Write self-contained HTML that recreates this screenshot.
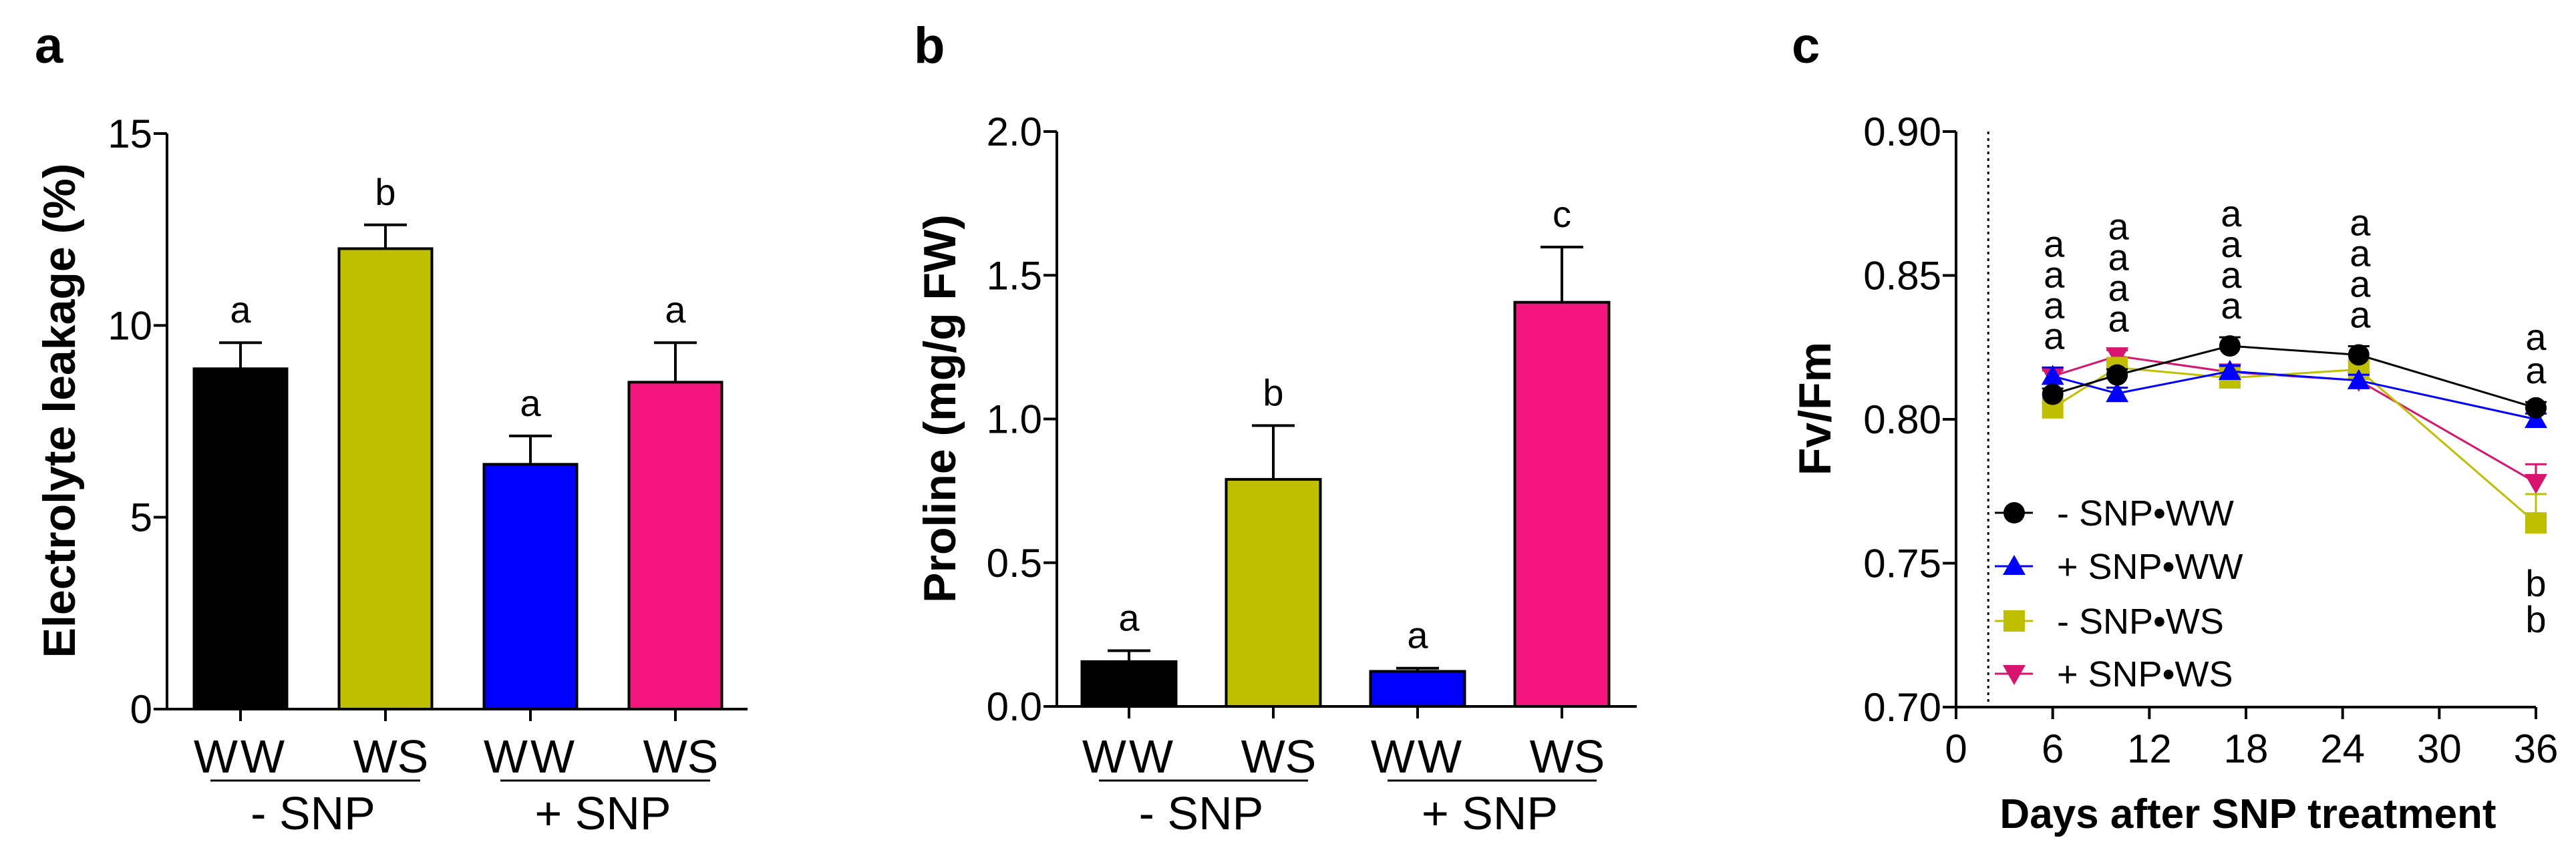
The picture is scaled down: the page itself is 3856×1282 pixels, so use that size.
<!DOCTYPE html>
<html><head><meta charset="utf-8">
<style>
html,body{margin:0;padding:0;background:#fff;}
svg{display:block;font-family:"Liberation Sans",Arial,sans-serif;}
</style></head>
<body>
<svg id="fig" width="3856" height="1282" viewBox="0 0 3856 1282" xmlns="http://www.w3.org/2000/svg">
<rect width="3856" height="1282" fill="#fff"/>
<text x="52" y="94" font-size="76" font-weight="bold">a</text>
<text x="1368" y="94" font-size="76" font-weight="bold">b</text>
<text x="2682" y="94" font-size="76" font-weight="bold">c</text>
<g id="pa"></g>
<g id="pb"></g>
<g id="pc"></g>
</svg>
<script>
const NS="http://www.w3.org/2000/svg";
// Panel a data
const aCats=["WW","WS","WW","WS"];
const aVals=[8.87,12.0,6.38,8.52];
const aErr=[0.68,0.62,0.74,1.03];
const aSig=["a","b","a","a"];
const aTicks=[0,5,10,15];
// Panel b data
const bCats=["WW","WS","WW","WS"];
const bVals=[0.156,0.79,0.122,1.406];
const bErr=[0.038,0.187,0.011,0.192];
const bSig=["a","b","a","c"];
const bTicks=["0.0","0.5","1.0","1.5","2.0"];
// Panel c data
const cDays=[6,10,17,25,36];
const cSeriesNames=["- SNP\u2022WW","+ SNP\u2022WW","- SNP\u2022WS","+ SNP\u2022WS"];
const cBlack=[0.8087,0.8154,0.8255,0.8224,0.804];
const cBlue=[0.815,0.809,0.8167,0.8135,0.800];
const cYellow=[0.804,0.818,0.8144,0.8173,0.764];
const cPink=[0.815,0.822,0.8164,0.8135,0.778];
const cBlackErr=[0.002,0.002,0.003,0.003,0.002];
const cBlueErr=[0.003,0.002,0.002,0.002,0.002];
const cYellowErr=[0.002,0.002,0.003,0.003,0.010];
const cPinkErr=[0.002,0.002,0.002,0.002,0.0064];
const cSigLetters=[["a","a","a","a"],["a","a","a","a"],["a","a","a","a"],["a","a","a","a"],["a","a","b","b"]];
const cYTicks=["0.70","0.75","0.80","0.85","0.90"];
const cXTicks=[0,6,12,18,24,30,36];

function el(parent,tag,attrs,text){const e=document.createElementNS(NS,tag);for(const k in attrs)e.setAttribute(k,attrs[k]);if(text!==undefined)e.textContent=text;parent.appendChild(e);return e;}
const barColors=["#000000","#bfbf00","#0000ff","#f5157f"];

function barPanel(g,cfg){
  const y=v=>cfg.y0-(v-cfg.min)/(cfg.max-cfg.min)*(cfg.y0-cfg.y1);
  const x=i=>cfg.xc0+i*cfg.step;
  cfg.vals.forEach((v,i)=>{
    const r=el(g,"rect",{x:x(i)-cfg.bw/2,y:y(v),width:cfg.bw,height:y(cfg.min)-y(v),fill:barColors[i],stroke:"#000","stroke-width":4});
    
    
    const e=el(g,"path",{d:`M${x(i)} ${y(v)}V${y(v+cfg.err[i])}M${x(i)-32} ${y(v+cfg.err[i])}H${x(i)+32}`,stroke:"#000","stroke-width":4,fill:"none"});
    
    
    const s=el(g,"text",{x:x(i),y:y(v+cfg.err[i])-30,"font-size":56,"text-anchor":"middle"},cfg.sig[i]);
    
    
    const t=el(g,"line",{x1:x(i),x2:x(i),y1:cfg.y0,y2:cfg.y0+18,stroke:"#000","stroke-width":4});
    
    
    const l=el(g,"text",{x:x(i)+(i%2?8:0),y:1157,"font-size":70,"text-anchor":"middle","letter-spacing":(i%2?0:4)},cfg.cats[i]);
    
    
  });
  const ax=el(g,"path",{d:`M${cfg.ax} ${cfg.y1}V${cfg.y0}H${cfg.axEnd}`,stroke:"#000","stroke-width":4,fill:"none"});
  
  
  cfg.ticks.forEach(t=>{
    const v=parseFloat(t);
    const tl=el(g,"line",{x1:cfg.ax-20,x2:cfg.ax,y1:y(v),y2:y(v),stroke:"#000","stroke-width":4});
    
    
    const tx=el(g,"text",{x:cfg.ax-22,y:y(v)+21,"font-size":60,"text-anchor":"end"},String(t));
    
    
  });
  const yt=el(g,"text",{transform:`translate(${cfg.ytx},${cfg.yty}) rotate(-90)`,"font-size":68,"font-weight":"bold","text-anchor":"middle"},cfg.ytitle);
  
  
  [[0,1,"- SNP"],[2,3,"+ SNP"]].forEach((p,k)=>{
    const gl=el(g,"line",{x1:x(p[0])-45,x2:x(p[1])+52,y1:1169,y2:1169,stroke:"#000","stroke-width":3});
    
    
    const gt=el(g,"text",{x:(x(p[0])+x(p[1]))/2,y:1242,"font-size":70,"text-anchor":"middle"},p[2]);
    
    
  });
}
barPanel(document.getElementById("pa"),{vals:aVals,err:aErr,sig:aSig,cats:aCats,ticks:aTicks,min:0,max:15,y0:1062,y1:200,xc0:360,step:217,bw:139,ax:250,axEnd:1119,ytitle:"Electrolyte leakage (%)",ytx:112,yty:615});
barPanel(document.getElementById("pb"),{vals:bVals,err:bErr,sig:bSig,cats:bCats,ticks:bTicks,min:0,max:2,y0:1058,y1:197,xc0:1690,step:216,bw:141,ax:1582,axEnd:2450,ytitle:"Proline (mg/g FW)",ytx:1430,yty:612});

// Panel c
(function(){
  const g=document.getElementById("pc");
  const X0=2928,X1=3796,Y0=1059,Y1=197;
  const x=d=>X0+d/36*(X1-X0);
  const y=v=>Y0-(v-0.70)/0.20*(Y0-Y1);
  const dl=el(g,"line",{x1:x(2),x2:x(2),y1:Y1,y2:Y0,stroke:"#000","stroke-width":3,"stroke-dasharray":"4 6"});
  
  
  const series=[
    {vals:cBlack,err:cBlackErr,col:"#000000",m:"circle"},
    {vals:cBlue,err:cBlueErr,col:"#0000ff",m:"tri"},
    {vals:cYellow,err:cYellowErr,col:"#bfbf00",m:"square"},
    {vals:cPink,err:cPinkErr,col:"#d8146e",m:"itri"}];
  function marker(par,type,cx,cy,col){
    let m;
    if(type==="circle")m=el(par,"circle",{cx:cx,cy:cy,r:16,fill:col});
    else if(type==="square")m=el(par,"rect",{x:cx-16,y:cy-16,width:32,height:32,fill:col});
    else if(type==="tri")m=el(par,"polygon",{points:`${cx},${cy-17} ${cx-17},${cy+13} ${cx+17},${cy+13}`,fill:col});
    else m=el(par,"polygon",{points:`${cx},${cy+17} ${cx-17},${cy-13} ${cx+17},${cy-13}`,fill:col});
    return m;
  }
  [3,2,1,0].forEach(si=>{
    const s=series[si];
    const sg=el(g,"g",{});
    
    
    const pts=cDays.map((d,i)=>x(d)+","+y(s.vals[i])).join(" ");
    const pl=el(sg,"polyline",{points:pts,fill:"none",stroke:s.col,"stroke-width":3});
    
    
    cDays.forEach((d,i)=>{
      const e=el(sg,"path",{d:`M${x(d)} ${y(s.vals[i])}V${y(s.vals[i]+s.err[i])}M${x(d)-16} ${y(s.vals[i]+s.err[i])}H${x(d)+16}`,stroke:s.col,"stroke-width":3});
      
      
      const m=marker(sg,s.m,x(d),y(s.vals[i]),s.col);
      
      
    });
  });
  cDays.forEach((d,i)=>{
    const top=Math.max(...series.map(s=>s.vals[i]+s.err[i]));
    const letters=cSigLetters[i];
    if(i<4){
      letters.forEach((L,k)=>{
        const t=el(g,"text",{x:x(d)+2,y:y(top)-28-(letters.length-1-k)*46,"font-size":56,"text-anchor":"middle"},L);
        
        
      });
    } else {
      [0,1].forEach(k=>{
        const t=el(g,"text",{x:x(d),y:y(top)-28-(1-k)*50,"font-size":56,"text-anchor":"middle"},letters[k]);
        
        
      });
      const low=Math.min(cYellow[i],cPink[i]);
      [2,3].forEach((k,j)=>{
        const t=el(g,"text",{x:x(d),y:y(low)+110+j*54,"font-size":56,"text-anchor":"middle"},letters[k]);
        
        
      });
    }
  });
  const ax=el(g,"path",{d:`M${X0} ${Y1}V${Y0}H${X1}`,stroke:"#000","stroke-width":4,fill:"none"});
  
  
  cYTicks.forEach(t=>{
    const v=parseFloat(t);
    const tl=el(g,"line",{x1:X0-20,x2:X0,y1:y(v),y2:y(v),stroke:"#000","stroke-width":4});
    
    
    const tx=el(g,"text",{x:X0-22,y:y(v)+21,"font-size":60,"text-anchor":"end"},t);
    
    
  });
  cXTicks.forEach(d=>{
    const tl=el(g,"line",{x1:x(d),x2:x(d),y1:Y0,y2:Y0+18,stroke:"#000","stroke-width":4});
    
    
    const tx=el(g,"text",{x:x(d),y:1142,"font-size":60,"text-anchor":"middle"},String(d));
    
    
  });
  const xt=el(g,"text",{x:3365,y:1240,"font-size":62,"font-weight":"bold","text-anchor":"middle"},"Days after SNP treatment");
  
  
  const yt=el(g,"text",{transform:"translate(2740,612) rotate(-90)","font-size":68,"font-weight":"bold","text-anchor":"middle"},"Fv/Fm");
  
  
  const legY=[768,848,930,1009];
  series.forEach((s,i)=>{
    const lg=el(g,"g",{});
    
    
    el(lg,"line",{x1:2986,x2:3043,y1:legY[i],y2:legY[i],stroke:s.col,"stroke-width":3});
    marker(lg,s.m,3015,legY[i],s.col);
    el(lg,"text",{x:3079,y:legY[i]+19,"font-size":54},cSeriesNames[i]);
  });
})();
</script>
</body></html>
